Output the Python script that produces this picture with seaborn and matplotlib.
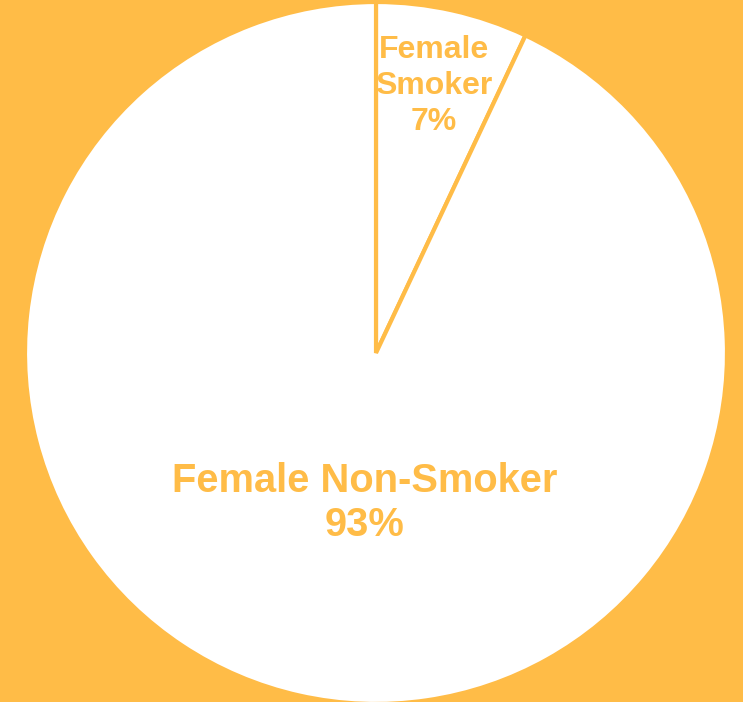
import matplotlib
matplotlib.use("Agg")
import matplotlib.pyplot as plt
import seaborn as sns

# Share of female smokers vs non-smokers
categories = ["Female Smoker", "Female Non-Smoker"]
shares = [7, 93]

ORANGE = "#FFBC47"

sns.set_theme(style="white")
plt.rcParams["font.family"] = ["Liberation Sans", "DejaVu Sans"]

fig = plt.figure(figsize=(7.43, 7.02), dpi=100, facecolor=ORANGE)
ax = fig.add_axes([0, 0, 1, 1])
ax.set_facecolor(ORANGE)

# Pie in pixel-like data units so it fills the canvas
cx, cy, r = 376, 702 - 353, 351
wedges, _ = ax.pie(
    shares,
    startangle=90,
    counterclock=False,
    colors=["white", "white"],
    center=(cx, cy),
    radius=r,
    wedgeprops=dict(edgecolor=ORANGE, linewidth=3, antialiased=True),
)
ax.set_xlim(0, 743)
ax.set_ylim(0, 702)
ax.set_aspect("equal")
ax.axis("off")

ax.text(434, 702 - 86, f"Female\nSmoker\n{shares[0]}%", ha="center", va="center",
        color=ORANGE, fontsize=23, fontweight="bold", linespacing=1.27)
ax.text(365, 702 - 503, f"{categories[1]}\n{shares[1]}%", ha="center", va="center",
        color=ORANGE, fontsize=28.7, fontweight="bold", linespacing=1.17)

fig.savefig("out.png", dpi=100, facecolor=ORANGE)
